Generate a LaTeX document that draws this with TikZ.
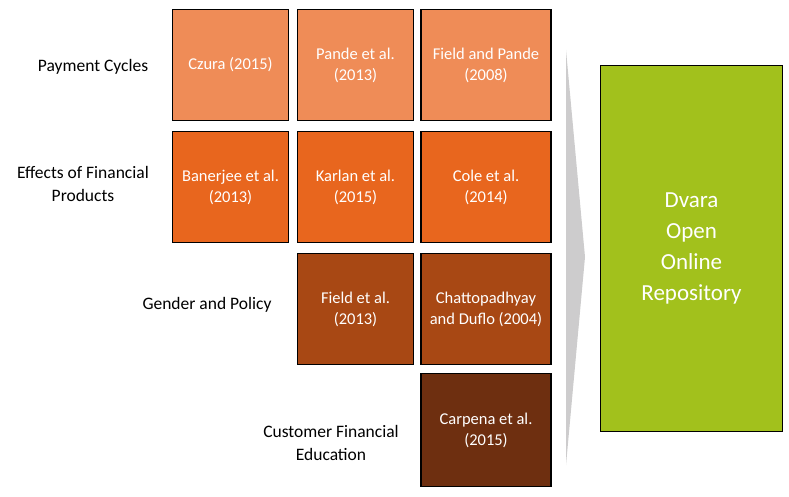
\documentclass[tikz,border=0pt]{standalone}
\usepackage{fontspec}
\setmainfont{Carlito}
\definecolor{cycleC}{HTML}{EF8C57}
\definecolor{effectC}{HTML}{E8661E}
\definecolor{genderC}{HTML}{A84814}
\definecolor{eduC}{HTML}{6E2F10}
\definecolor{dvaraC}{HTML}{A2C11C}
\definecolor{chevC}{HTML}{CDCCCD}
\tikzset{
  paper/.style={draw=black, line width=1.5pt, text=white, align=center,
    font=\fontsize{16.5}{21}\selectfont, minimum width=116pt, minimum height=111pt, inner sep=0pt},
  theme/.style={align=center, font=\fontsize{17.5}{23}\selectfont},
}
\begin{document}
\begin{tikzpicture}[x=1pt,y=-1pt]
        \useasboundingbox (0,0) rectangle (789,497);

        % row of papers per theme
        \node[paper, fill=cycleC] (czura) at (230.5,65) {Czura (2015)};
        \node[paper, fill=cycleC] (pande) at (355.5,65) {Pande et al.\\(2013)};
        \node[paper, fill=cycleC, minimum width=130pt] (field) at (486,65) {Field and Pande\\(2008)};

        \node[paper, fill=effectC] (banerjee) at (230.5,187) {Banerjee et al.\\(2013)};
        \node[paper, fill=effectC] (karlan) at (355.5,187) {Karlan et al.\\(2015)};
        \node[paper, fill=effectC, minimum width=130pt] (cole) at (486,187) {Cole et al.\\(2014)};

        \node[paper, fill=genderC] (fieldb) at (355.5,309) {Field et al.\\(2013)};
        \node[paper, fill=genderC, minimum width=130pt] (chatto) at (486,309) {Chattopadhyay\\and Duflo (2004)};

        \node[paper, fill=eduC, minimum width=130pt, minimum height=113pt] (carpena) at (486,430) {Carpena et al.\\(2015)};

        % theme labels
        \node[theme] (cycles) at (93,67) {Payment Cycles};
        \node[theme] (effects) at (83,184) {Effects of Financial\\Products};
        \node[theme] (gender) at (207,305) {Gender and Policy};
        \node[theme] (edu) at (331,443) {Customer Financial\\Education};

        % chevron
        \fill[chevC] (566,50) -- (585,257) -- (566,465) -- cycle;

        % repository
        \node[draw=black, line width=1.5pt, fill=dvaraC, text=white, align=center,
          font=\fontsize{23}{31}\selectfont, minimum width=182pt, minimum height=366pt]
          (dvara) at (691.5,248.5) {Dvara\\Open\\Online\\Repository};
\end{tikzpicture}
\end{document}
